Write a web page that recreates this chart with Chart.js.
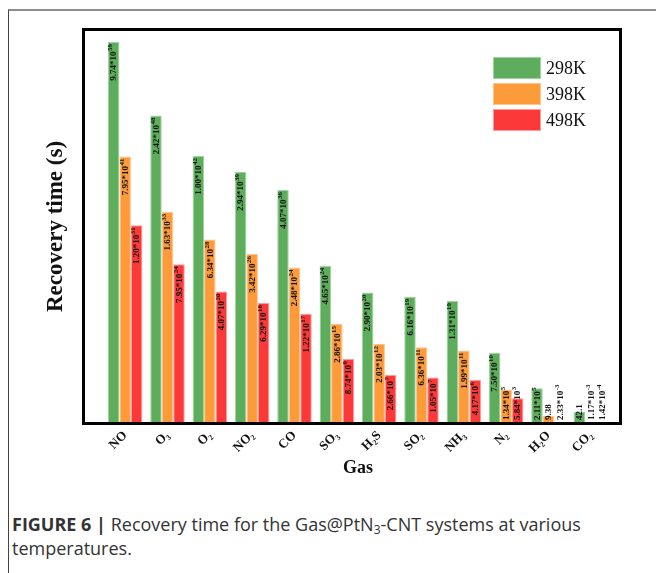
<!DOCTYPE html>
<html>
<head>
<meta charset="utf-8">
<script src="https://cdn.jsdelivr.net/npm/chart.js@4.4.1/dist/chart.umd.min.js"></script>
<style>
  html, body { margin: 0; padding: 0; background: #fff; }
  body { width: 656px; height: 573px; position: relative; overflow: hidden; }
  #panel { position: absolute; left: 8px; top: 9px; width: 700px; height: 600px;
           border-top: 2px solid #8c8c8c; border-left: 1px solid #444; }
  #wrap { position: absolute; left: 0; top: 0; width: 656px; height: 505px; }
  #caption { position: absolute; left: 12px; top: 512px; font-family: "Open Sans", sans-serif;
             font-size: 18px; line-height: 24px; color: #333; white-space: nowrap; }
  #caption sub { font-size: 12px; line-height: 0; vertical-align: -3px; }
</style>
</head>
<body>
<div id="panel"></div>
<div id="wrap"><canvas id="chart" width="656" height="505"></canvas></div>
<div id="caption"><b>FIGURE 6 |</b> Recovery time for the Gas@PtN<sub>3</sub>-CNT systems at various<br>temperatures.</div>
<script>
// Gas molecules adsorbed on PtN3-CNT
const gases = ['NO', 'O₃', 'O₂', 'NO₂', 'CO', 'SO₃', 'H₂S', 'SO₂', 'NH₃', 'N₂', 'H₂O', 'CO₂'];
const temperatures = ['298K', '398K', '498K'];

// Recovery time in seconds at each temperature
const time298 = [9.74e59, 2.42e48, 1.00e42, 2.94e39, 4.07e36, 4.65e24, 2.90e20, 6.16e19, 1.31e19, 7.50e10, 2.11e5, 42.1];
const time398 = [7.95e41, 1.63e33, 6.34e28, 3.42e26, 2.48e24, 2.86e15, 2.03e12, 6.36e11, 1.99e11, 1.34e5, 9.38, 1.17e-3];
const time498 = [1.20e31, 7.95e24, 4.07e20, 6.29e18, 1.22e17, 8.74e9, 2.66e7, 1.05e7, 4.17e6, 5.84e3, 2.33e-3, 1.42e-4];

const fills = ['#5dad5c', '#fd9a39', '#fb3939'];
const edges = ['#9fd39e', '#ffc38a', '#ff9a9a'];
const SERIF = '"Liberation Serif", "Times New Roman", serif';

// "9.74*10" + superscript "59", or plain text for small numbers
function splitValue(v) {
  if (v >= 1 && v < 100) return [v.toPrecision(3), ''];
  const parts = v.toExponential(2).split('e');
  return [parts[0] + '*10', String(parseInt(parts[1], 10))];
}

// Vertical value labels written along each bar
const barLabels = {
  id: 'barLabels',
  afterDatasetsDraw(chart) {
    const ctx = chart.ctx;
    const area = chart.chartArea;
    ctx.save();
    ctx.fillStyle = '#111';
    ctx.textBaseline = 'middle';
    ctx.textAlign = 'left';
    chart.data.datasets.forEach((ds, di) => {
      const meta = chart.getDatasetMeta(di);
      meta.data.forEach((bar, i) => {
        const [main, sup] = splitValue(ds.data[i]);
        ctx.font = 'bold 9px ' + SERIF;
        const w1 = ctx.measureText(main).width;
        ctx.font = 'bold 7px ' + SERIF;
        const w2 = sup ? ctx.measureText(sup).width + 0.5 : 0;
        const base = area.bottom;
        const top = Math.min(bar.y, base);
        let start = top + 2 + w1 + w2;
        if (start > base - 2) start = base - 2;
        ctx.save();
        ctx.translate(bar.x, start);
        ctx.rotate(-Math.PI / 2);
        ctx.font = 'bold 9px ' + SERIF;
        ctx.fillText(main, 0, 0.5);
        if (sup) {
          ctx.font = 'bold 7px ' + SERIF;
          ctx.fillText(sup, w1 + 0.5, -3);
        }
        ctx.restore();
      });
    });
    ctx.restore();
  }
};

// Plot frame and stacked legend in the upper right corner
const frameAndLegend = {
  id: 'frameAndLegend',
  afterDraw(chart) {
    const ctx = chart.ctx;
    const a = chart.chartArea;
    ctx.save();
    ctx.strokeStyle = '#000';
    ctx.lineWidth = 3;
    const l = a.left - 20.5, r = a.right + 8.5, t = a.top - 1.5, b = a.bottom + 1.5;
    ctx.strokeRect(l, t, r - l, b - t);

    chart.data.datasets.forEach((ds, i) => {
      const x = a.right - 119;
      const y = a.top + 26 + i * 26;
      ctx.fillStyle = ds.backgroundColor;
      ctx.fillRect(x, y, 48, 22);
      ctx.strokeStyle = ds.borderColor;
      ctx.lineWidth = 1;
      ctx.strokeRect(x + 0.5, y + 0.5, 47, 21);
      ctx.fillStyle = '#111';
      ctx.font = '18px ' + SERIF;
      ctx.textBaseline = 'middle';
      ctx.textAlign = 'left';
      ctx.fillText(ds.label, x + 53, y + 12);
    });
    ctx.restore();
  }
};

const series = [time298, time398, time498];

new Chart(document.getElementById('chart'), {
  type: 'bar',
  data: {
    labels: gases,
    datasets: series.map((values, i) => ({
      label: temperatures[i],
      data: values,
      backgroundColor: fills[i],
      borderColor: edges[i],
      borderWidth: 1,
      clip: 0
    }))
  },
  options: {
    responsive: false,
    animation: false,
    devicePixelRatio: 1,
    layout: { padding: { top: 31, right: 44, left: 0, bottom: 0 } },
    datasets: { bar: { categoryPercentage: 0.815, barPercentage: 1 } },
    plugins: { legend: { display: false }, tooltip: { enabled: false } },
    scales: {
      x: {
        grid: { display: false, drawTicks: false },
        border: { display: false },
        ticks: {
          color: '#111',
          autoSkip: false,
          minRotation: 45,
          maxRotation: 45,
          padding: 6,
          font: { family: SERIF, size: 13, weight: 'bold' }
        },
        title: {
          display: true,
          text: 'Gas',
          color: '#111',
          font: { family: SERIF, size: 18, weight: 'bold' },
          padding: { top: 0, bottom: 26 }
        },
        afterFit(scale) { scale.height = 83; }
      },
      y: {
        type: 'logarithmic',
        min: 1,
        max: 5.37e61,
        grid: { display: false, drawTicks: false },
        border: { display: false },
        ticks: { display: false },
        title: {
          display: true,
          text: 'Recovery time (s)',
          color: '#111',
          font: { family: SERIF, size: 23, weight: 'bold' },
          padding: { top: 42, bottom: 0 }
        },
        afterFit(scale) { scale.width = 104; }
      }
    }
  },
  plugins: [barLabels, frameAndLegend]
});
</script>
</body>
</html>
